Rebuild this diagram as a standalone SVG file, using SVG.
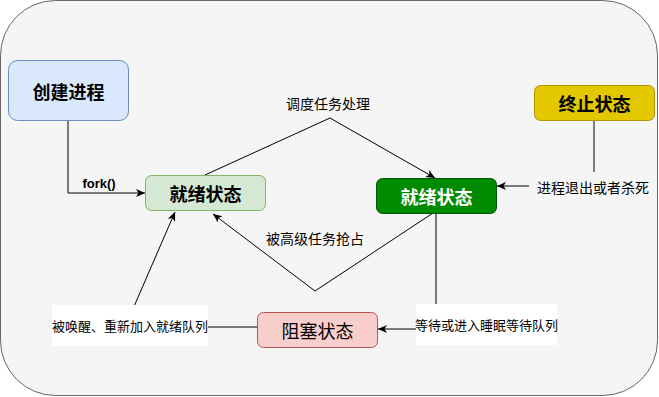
<svg xmlns="http://www.w3.org/2000/svg" width="659" height="397" viewBox="0 0 659 397">
<style>
.node text{font-family:"Noto Sans CJK SC","Liberation Sans",sans-serif;font-weight:bold;font-size:18px;text-anchor:middle;dominant-baseline:central}
.lbl{font-family:"Noto Sans CJK SC","Liberation Sans",sans-serif;font-size:14px;text-anchor:middle;dominant-baseline:central;fill:#000}
.sm{font-size:13px}
.edge{fill:none;stroke:#000;stroke-width:1}
</style>
<defs>
<marker id="arr" markerWidth="12" markerHeight="10" refX="9" refY="4" orient="auto" markerUnits="userSpaceOnUse">
<path d="M0,0 L9,4 L0,8 L2.5,4 Z" fill="#000"/>
</marker>
</defs>
<rect x="0.5" y="0.5" width="657" height="395" rx="55" ry="55" fill="#f5f5f5" stroke="#666"/>
<g id="connectors">
<path class="edge" d="M68,120 V193 H145" marker-end="url(#arr)"/>
<path class="edge" d="M205,175 L330,118 L435,178" marker-end="url(#arr)"/>
<path class="edge" d="M433,213 L315,291 L213,214" marker-end="url(#arr)"/>
<path class="edge" d="M594,121 V172"/>
<path class="edge" d="M529,186 H497" marker-end="url(#arr)"/>
<path class="edge" d="M436,213 V304"/>
<path class="edge" d="M416,329 H378" marker-end="url(#arr)"/>
<path class="edge" d="M257,327 H208"/>
<path class="edge" d="M129,318 L175,212" marker-end="url(#arr)"/>
</g>
<g id="labels">
<text class="lbl" x="99" y="183" style="font-family:'Liberation Sans',sans-serif;font-weight:bold;font-size:13px">fork()</text>
<text class="lbl" x="328" y="103">调度任务处理</text>
<text class="lbl" x="315" y="238">被高级任务抢占</text>
<text class="lbl" x="593" y="187">进程退出或者杀死</text>
<rect x="416" y="304" width="141" height="41" fill="#fff"/>
<text class="lbl sm" x="486.5" y="324">等待或进入睡眠等待队列</text>
<rect x="52" y="305" width="156" height="41" fill="#fff"/>
<text class="lbl sm" x="130" y="325">被唤醒、重新加入就绪队列</text>
</g>
<g id="node-create" class="node">
<rect x="8.5" y="60.5" width="120" height="60" rx="9" fill="#dae8fc" stroke="#6c8ebf"/>
<text x="68.5" y="90.5">创建进程</text>
</g>
<g id="node-ready1" class="node">
<rect x="145.5" y="175.5" width="120" height="35" rx="6" fill="#d5e8d4" stroke="#82b366"/>
<text x="205.5" y="193">就绪状态</text>
</g>
<g id="node-ready2" class="node">
<rect x="376.5" y="178.5" width="120" height="35" rx="6" fill="#008a00" stroke="#005700"/>
<text x="436.5" y="196" fill="#fff">就绪状态</text>
</g>
<g id="node-exit" class="node">
<rect x="534.5" y="85.5" width="120" height="35" rx="6" fill="#e3c800" stroke="#b09500"/>
<text x="594.5" y="103">终止状态</text>
</g>
<g id="node-blocked" class="node">
<rect x="257.5" y="312.5" width="120" height="35" rx="6" fill="#f8cecc" stroke="#b85450"/>
<text x="317.5" y="330" style="font-weight:normal">阻塞状态</text>
</g>
</svg>
